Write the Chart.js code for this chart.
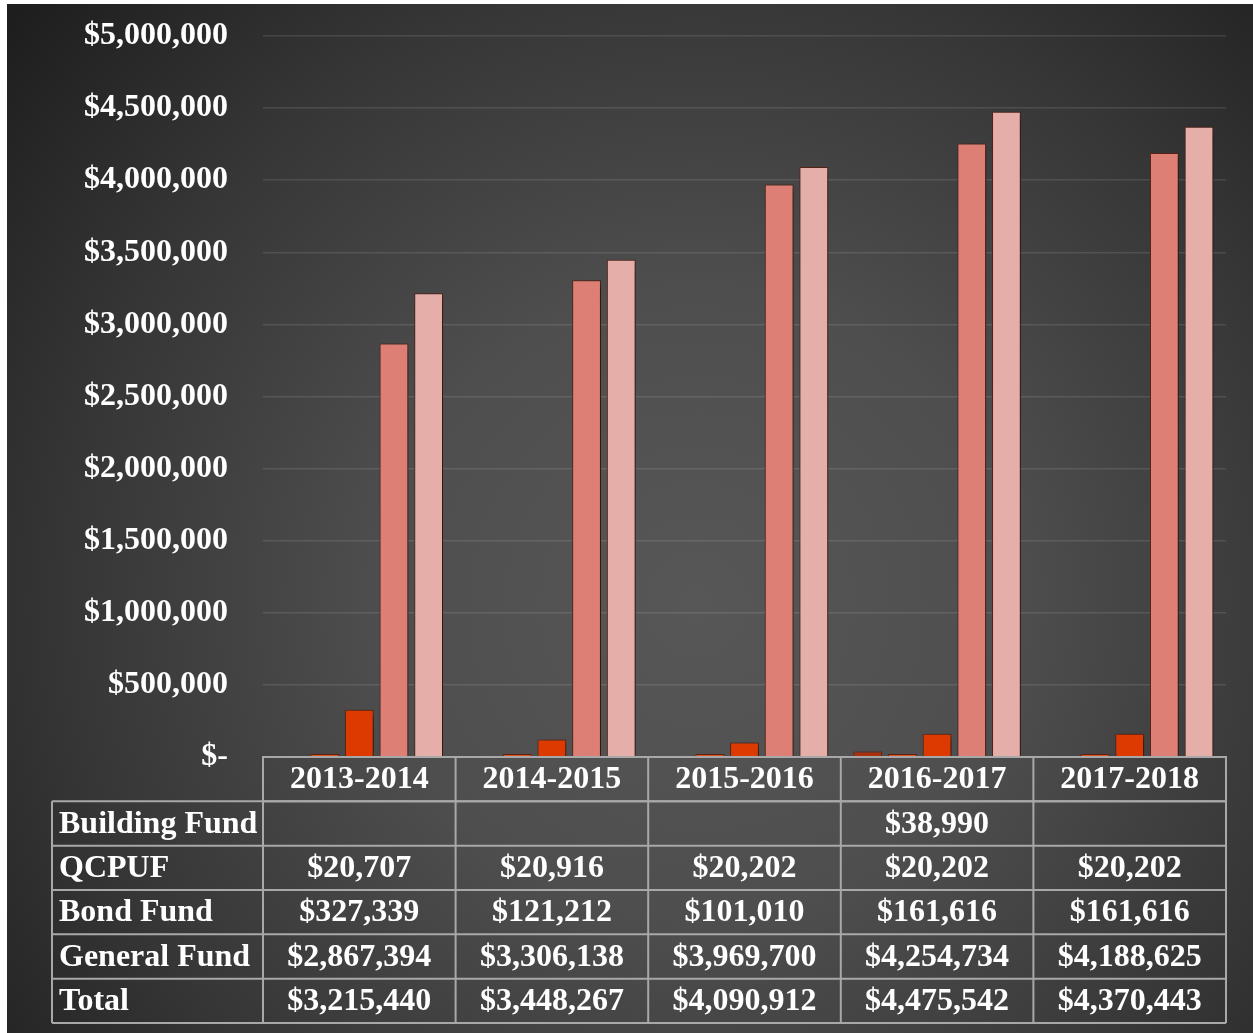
<!DOCTYPE html>
<html>
<head>
<meta charset="utf-8">
<script src="https://cdn.jsdelivr.net/npm/chart.js@4.4.1/dist/chart.umd.min.js"></script>
<style>
  html, body { margin: 0; padding: 0; background: #ffffff; }
  #wrap { position: absolute; left: 7px; top: 4px; width: 1246px; height: 1029px; }
  canvas { display: block; }
</style>
</head>
<body>
<div id="wrap"><canvas id="c" width="1246" height="1029"></canvas></div>
<script>
// ---- data ----
const categories = ['2013-2014', '2014-2015', '2015-2016', '2016-2017', '2017-2018'];
const seriesNames = ['Building Fund', 'QCPUF', 'Bond Fund', 'General Fund', 'Total'];
const buildingFund = [null, null, null, 38990, null];
const qcpuf = [20707, 20916, 20202, 20202, 20202];
const bondFund = [327339, 121212, 101010, 161616, 161616];
const generalFund = [2867394, 3306138, 3969700, 4254734, 4188625];
const total = [3215440, 3448267, 4090912, 4475542, 4370443];
const yTicks = [0, 500000, 1000000, 1500000, 2000000, 2500000, 3000000, 3500000, 4000000, 4500000, 5000000];

const seriesValues = [buildingFund, qcpuf, bondFund, generalFund, total];
const seriesColors = ['#a8300e', '#e0521c', '#dc3a00', '#dd7f74', '#e6aea8'];

const FONT = 'bold 32px "Liberation Serif", "Times New Roman", serif';

function money(v) {
  if (v === null || v === undefined) return '';
  if (v === 0) return '$-';
  return '$' + v.toLocaleString('en-US');
}

const bgPlugin = {
  id: 'bg',
  beforeDraw(chart) {
    const { ctx, width, height } = chart;
    ctx.save();
    const g = ctx.createRadialGradient(690, 600, 0, 690, 600, 900);
    g.addColorStop(0, '#575757');
    g.addColorStop(0.35, '#4e4e4e');
    g.addColorStop(0.7, '#363636');
    g.addColorStop(1, '#1e1e1e');
    ctx.fillStyle = g;
    ctx.fillRect(0, 0, width, height);
    ctx.restore();
  }
};

const shadowPlugin = {
  id: 'shadow',
  beforeDatasetsDraw(chart) {
    const ctx = chart.ctx;
    ctx.save();
    ctx.shadowColor = 'rgba(0,0,0,0.55)';
    ctx.shadowBlur = 9;
    ctx.shadowOffsetX = 4;
    ctx.shadowOffsetY = 3;
  },
  afterDatasetsDraw(chart) {
    chart.ctx.restore();
  }
};

const tablePlugin = {
  id: 'dataTable',
  afterDraw(chart) {
    const { ctx, chartArea } = chart;
    const xs = chart.scales.x;
    const n = categories.length;
    const left = chartArea.left, right = chartArea.right;
    const colW = (right - left) / n;
    const top = chartArea.bottom;
    const rowH = 44.33;
    const labelLeft = 45;
    const rows = seriesNames.length;
    ctx.save();
    ctx.strokeStyle = '#a8a8a8';
    ctx.lineWidth = 2;
    ctx.strokeRect(left, top, right - left, rowH);
    for (let i = 1; i < n; i++) {
      const x = left + i * colW;
      ctx.beginPath(); ctx.moveTo(x, top); ctx.lineTo(x, top + rowH * (rows + 1)); ctx.stroke();
    }
    const bodyTop = top + rowH;
    for (let r = 0; r <= rows; r++) {
      const y = bodyTop + r * rowH;
      ctx.beginPath(); ctx.moveTo(labelLeft, y); ctx.lineTo(right, y); ctx.stroke();
    }
    ctx.beginPath(); ctx.moveTo(labelLeft, bodyTop); ctx.lineTo(labelLeft, bodyTop + rows * rowH); ctx.stroke();
    ctx.beginPath(); ctx.moveTo(left, top); ctx.lineTo(left, bodyTop + rows * rowH); ctx.stroke();
    ctx.beginPath(); ctx.moveTo(right, top); ctx.lineTo(right, bodyTop + rows * rowH); ctx.stroke();

    ctx.fillStyle = '#ffffff';
    ctx.font = FONT;
    ctx.textBaseline = 'middle';
    ctx.textAlign = 'center';
    for (let i = 0; i < n; i++) {
      ctx.fillText(categories[i], xs.getPixelForValue(i), top + rowH / 2 + 1);
    }
    for (let r = 0; r < rows; r++) {
      const cy = bodyTop + r * rowH + rowH / 2 + 1;
      ctx.textAlign = 'left';
      ctx.fillText(seriesNames[r], labelLeft + 7, cy);
      ctx.textAlign = 'center';
      for (let i = 0; i < n; i++) {
        ctx.fillText(money(seriesValues[r][i]), xs.getPixelForValue(i), cy);
      }
    }
    ctx.restore();
  }
};

const datasets = seriesNames.map((name, i) => ({
  label: name,
  data: seriesValues[i],
  backgroundColor: seriesColors[i],
  borderColor: '#5e2416',
  borderWidth: 1,
  categoryPercentage: 0.9,
  barPercentage: 0.83
}));

new Chart(document.getElementById('c'), {
  type: 'bar',
  data: { labels: categories, datasets },
  options: {
    responsive: false,
    animation: false,
    layout: { padding: { top: 32, right: 27, bottom: 276, left: 0 } },
    plugins: { legend: { display: false }, tooltip: { enabled: false } },
    scales: {
      x: { display: false },
      y: {
        min: 0,
        max: 5000000,
        afterFit(scale) { scale.width = 256; },
        afterBuildTicks(scale) { scale.ticks = yTicks.map(v => ({ value: v })); },
        border: { display: false },
        grid: { color: 'rgba(255,255,255,0.11)', lineWidth: 1.5, drawTicks: true, tickLength: 35, tickColor: 'rgba(0,0,0,0)' },
        ticks: {
          color: '#ffffff',
          padding: 0,
          font: { family: '"Liberation Serif", "Times New Roman", serif', size: 32, weight: 'bold' },
          callback: (v) => money(v)
        }
      }
    }
  },
  plugins: [bgPlugin, shadowPlugin, tablePlugin]
});
</script>
</body>
</html>
